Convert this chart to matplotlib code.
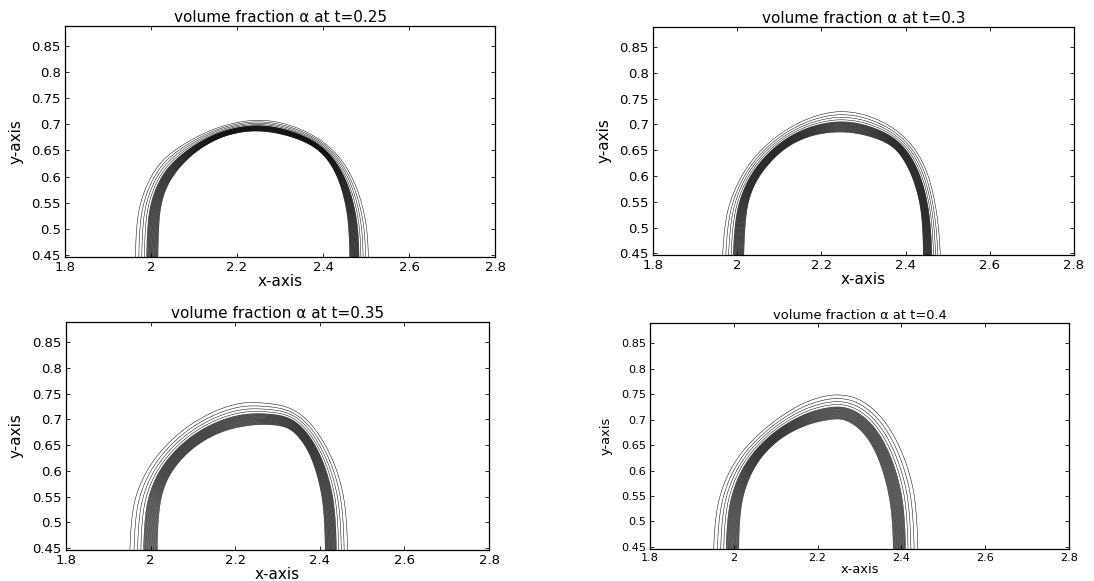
import numpy as np
import matplotlib.pyplot as plt
from matplotlib.path import Path

TIMES = ["0.25", "0.3", "0.35", "0.4"]

# inner edge of the interface band (gas side)
INNER_X = [
    [2.015, 2.017, 2.021, 2.036, 2.067, 2.114, 2.176, 2.250, 2.331, 2.393, 2.432, 2.455, 2.462, 2.462],
    [2.014, 2.018, 2.029, 2.057, 2.109, 2.172, 2.243, 2.307, 2.370, 2.405, 2.429, 2.441, 2.443],
    [2.015, 2.017, 2.030, 2.062, 2.113, 2.176, 2.247, 2.310, 2.341, 2.373, 2.396, 2.411, 2.414],
    [2.011, 2.013, 2.027, 2.059, 2.110, 2.174, 2.237, 2.269, 2.309, 2.341, 2.365, 2.379, 2.382],
]
INNER_Y = [
    [0.40, 0.490, 0.540, 0.582, 0.620, 0.655, 0.681, 0.690, 0.677, 0.652, 0.607, 0.543, 0.480, 0.40],
    [0.40, 0.511, 0.563, 0.608, 0.653, 0.679, 0.687, 0.680, 0.660, 0.621, 0.569, 0.511, 0.40],
    [0.40, 0.511, 0.570, 0.615, 0.654, 0.680, 0.691, 0.689, 0.676, 0.641, 0.589, 0.524, 0.40],
    [0.40, 0.510, 0.569, 0.622, 0.664, 0.691, 0.702, 0.700, 0.677, 0.635, 0.576, 0.510, 0.40],
]

# outermost contour line (liquid side)
OUTER_X = [
    [1.963, 1.965, 1.976, 2.005, 2.044, 2.122, 2.184, 2.250, 2.316, 2.385, 2.436, 2.472, 2.495, 2.505, 2.506],
    [1.962, 1.970, 1.990, 2.029, 2.085, 2.148, 2.204, 2.251, 2.307, 2.370, 2.417, 2.449, 2.469, 2.481, 2.484],
    [1.949, 1.954, 1.971, 2.011, 2.074, 2.145, 2.207, 2.255, 2.326, 2.373, 2.412, 2.444, 2.463, 2.467],
    [1.950, 1.955, 1.975, 2.015, 2.079, 2.150, 2.206, 2.253, 2.301, 2.349, 2.389, 2.420, 2.436, 2.441],
]
OUTER_Y = [
    [0.40, 0.500, 0.556, 0.610, 0.646, 0.684, 0.702, 0.710, 0.702, 0.677, 0.642, 0.594, 0.537, 0.480, 0.40],
    [0.40, 0.511, 0.569, 0.627, 0.673, 0.705, 0.721, 0.726, 0.719, 0.695, 0.660, 0.615, 0.556, 0.485, 0.40],
    [0.40, 0.511, 0.570, 0.628, 0.680, 0.715, 0.732, 0.7335, 0.726, 0.699, 0.654, 0.596, 0.524, 0.40],
    [0.40, 0.510, 0.576, 0.635, 0.687, 0.727, 0.745, 0.750, 0.741, 0.710, 0.661, 0.596, 0.530, 0.40],
]

# contour levels: position across the band (0 = inner edge, 1 = outermost line)
LEVELS = [0.0, 0.025, 0.05, 0.075, 0.1, 0.125, 0.15, 0.175, 0.2, 0.225, 0.25,
          0.275, 0.3, 0.325, 0.35, 0.375, 0.4, 0.425, 0.45, 0.475, 0.5,
          0.6, 0.72, 0.85, 1.0]

X_TICKS = [1.8, 2.0, 2.2, 2.4, 2.6, 2.8]
X_TICKLABELS = ["1.8", "2", "2.2", "2.4", "2.6", "2.8"]
Y_TICKS = [0.45, 0.5, 0.55, 0.6, 0.65, 0.7, 0.75, 0.8, 0.85]
Y_TICKLABELS = ["0.45", "0.5", "0.55", "0.6", "0.65", "0.7", "0.75", "0.8", "0.85"]

# axes boxes in pixels: left, top, right, bottom
BOXES = [(65, 26, 495, 256.5), (653, 26.7, 1074, 255.3),
         (66, 322.3, 489, 549.7), (650, 323.3, 1069, 548.7)]
FONT_SCALE = [1.0, 1.0, 1.0, 0.85]


def chaikin(xs, ys, n=4):
    p = np.c_[xs, ys]
    for _ in range(n):
        q = 0.75 * p[:-1] + 0.25 * p[1:]
        r = 0.25 * p[:-1] + 0.75 * p[1:]
        mid = np.empty((2 * len(q), 2))
        mid[0::2] = q
        mid[1::2] = r
        p = np.vstack([p[:1], mid, p[-1:]])
    return p[:, 0], p[:, 1]


def signed_dist(px, py, xs, ys):
    xs, ys = chaikin(xs, ys)
    vx = np.r_[xs[0], xs, xs[-1], xs[0]]
    vy = np.r_[0.0, ys, 0.0, 0.0]
    d = np.full(px.shape, np.inf)
    for i in range(len(vx) - 1):
        ax_, ay_ = vx[i], vy[i]
        bx, by = vx[i + 1], vy[i + 1]
        dx, dy = bx - ax_, by - ay_
        l2 = dx * dx + dy * dy
        if l2 == 0:
            continue
        t = np.clip(((px - ax_) * dx + (py - ay_) * dy) / l2, 0, 1)
        d = np.minimum(d, np.hypot(px - ax_ - t * dx, py - ay_ - t * dy))
    inside = Path(np.c_[vx, vy]).contains_points(np.c_[px.ravel(), py.ravel()]).reshape(px.shape)
    return np.where(inside, -d, d)


def smooth(f, sigma=1.0):
    k = np.exp(-0.5 * (np.arange(-4, 5) / sigma) ** 2)
    k /= k.sum()
    f = np.pad(f, 4, mode="edge")
    f = np.apply_along_axis(lambda r: np.convolve(r, k, mode="same"), 0, f)
    f = np.apply_along_axis(lambda r: np.convolve(r, k, mode="same"), 1, f)
    return f[4:-4, 4:-4]


gx = np.linspace(1.8, 2.8, 501)
gy = np.linspace(0.42, 0.90, 241)
X, Y = np.meshgrid(gx, gy)

fig = plt.figure(figsize=(10.94, 5.81), dpi=100)
W, H = 1094, 581

for i in range(4):
    l, t, r, b = BOXES[i]
    ax = fig.add_axes([l / W, (H - b) / H, (r - l) / W, (b - t) / H])
    s_in = signed_dist(X, Y, INNER_X[i], INNER_Y[i])
    s_out = signed_dist(X, Y, OUTER_X[i], OUTER_Y[i])
    F = np.clip(s_in / np.maximum(s_in - s_out, 1e-6), -1, 2)
    F = smooth(F)
    ax.contour(X, Y, F, levels=LEVELS, colors="k", linewidths=0.35)

    fs = FONT_SCALE[i]
    ax.set_xlim(1.8, 2.8)
    ax.set_ylim(0.4465, 0.889)
    ax.set_xticks(X_TICKS)
    ax.set_xticklabels(X_TICKLABELS)
    ax.set_yticks(Y_TICKS)
    ax.set_yticklabels(Y_TICKLABELS)
    ax.tick_params(direction="in", top=True, right=True, length=3, width=0.6,
                   labelsize=9.5 * fs, pad=3)
    for sp in ax.spines.values():
        sp.set_linewidth(0.9)
    ax.set_title(f"volume fraction α at t={TIMES[i]}", fontsize=11 * fs, pad=3)
    ax.set_xlabel("x-axis", fontsize=11 * fs, labelpad=0)
    ax.set_ylabel("y-axis", fontsize=11 * fs, labelpad=6)

fig.savefig("out.png", dpi=100)
